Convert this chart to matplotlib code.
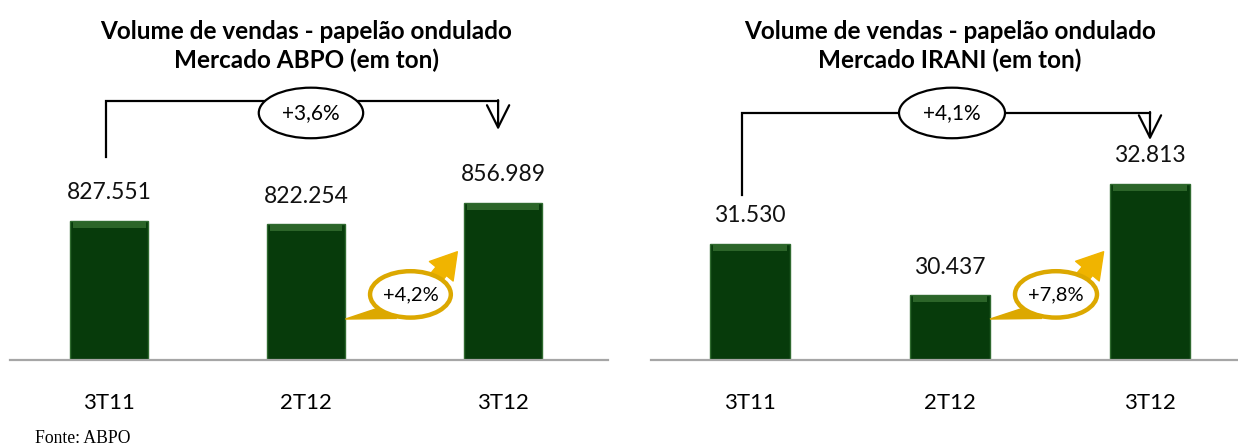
import matplotlib
matplotlib.use("Agg")
import matplotlib.pyplot as plt
from matplotlib.patches import Ellipse, Polygon, FancyArrowPatch
from matplotlib.transforms import blended_transform_factory

# data
quarters = ["3T11", "2T12", "3T12"]
abpo_values = [827551, 822254, 856989]
irani_values = [31530, 30437, 32813]
abpo_labels = ["827.551", "822.254", "856.989"]
irani_labels = ["31.530", "30.437", "32.813"]
titles = ["Volume de vendas - papelão ondulado\nMercado ABPO (em ton)",
          "Volume de vendas - papelão ondulado\nMercado IRANI (em ton)"]
total_growth = ["+3,6%", "+4,1%"]
quarter_growth = ["+4,2%", "+7,8%"]

BAR = "#073b0b"
BAR_EDGE = "#2f6a2f"
GOLD = "#dca800"
FONT = "Lato"

W, H = 1238, 448
fig = plt.figure(figsize=(W / 100, H / 100), dpi=100)

# axes boxes in pixels
panels = [
    dict(box=(10, 608), xlim=(-0.503, 2.533), ymin=600000, per_px=1635,
         bracket=(-0.015, 1.975, 0.634, 0.809, 0.719), oval=(1.025, 0.772),
         vals=abpo_values, labs=abpo_labels),
    dict(box=(651, 1238), xlim=(-0.495, 2.44), ymin=29046, per_px=21.4,
         bracket=(-0.04, 2.0, 0.516, 0.772, 0.6875), oval=(1.01, 0.772),
         vals=irani_values, labs=irani_labels),
]

base_px, top_px = 360, 40
for i, p in enumerate(panels):
    x0, x1 = p["box"]
    ax = fig.add_axes([x0 / W, (H - base_px) / H, (x1 - x0) / W, (base_px - top_px) / H])
    ymax = p["ymin"] + (base_px - top_px) * p["per_px"]
    ax.set_xlim(*p["xlim"])
    ax.set_ylim(p["ymin"], ymax)
    x = range(len(quarters))
    ax.bar(x, p["vals"], width=0.4, bottom=0, color=BAR, edgecolor=BAR_EDGE,
           linewidth=1.0, zorder=2)
    # bevel highlight on top of bars
    bevel = [v - 7 * p["per_px"] for v in p["vals"]]
    ax.bar(x, [6 * p["per_px"]] * 3, width=0.37, bottom=bevel, color="#2c6529",
           linewidth=0, zorder=3)
    for xi, v, lab in zip(x, p["vals"], p["labs"]):
        ax.text(xi, v + 28 * p["per_px"], lab, ha="center", va="center",
                fontsize=16.5, family=FONT, color="#111111")
    for s in ["top", "left", "right"]:
        ax.spines[s].set_visible(False)
    ax.spines["bottom"].set_color("#a6a6a6")
    ax.spines["bottom"].set_linewidth(1.6)
    ax.set_yticks([])
    ax.set_xticks(list(x))
    ax.set_xticklabels(quarters, fontsize=16, family=FONT)
    ax.tick_params(axis="x", length=0, pad=24)

    tr = blended_transform_factory(ax.transData, ax.transAxes)

    # title
    ax.text(1, (base_px - 46) / (base_px - top_px), titles[i], transform=tr,
            ha="center", va="center", fontsize=17.5, fontweight="bold",
            family=FONT, linespacing=1.3, clip_on=False)

    # overall growth bracket
    bl, br, ylo, yhi, ytip = p["bracket"]
    ax.plot([bl, bl, br], [ylo, yhi, yhi], color="black",
            lw=1.6, transform=tr, clip_on=False, solid_joinstyle="miter")
    ax.add_patch(FancyArrowPatch((br, yhi + 0.003), (br, ytip),
                                 arrowstyle="->,head_length=1.0,head_width=0.5",
                                 mutation_scale=16, lw=1.6, color="black",
                                 transform=tr, shrinkA=0, shrinkB=0,
                                 clip_on=False))
    ox, oy = p["oval"]
    ax.add_patch(Ellipse((ox, oy), 0.53, 0.158, facecolor="white",
                         edgecolor="black", lw=1.6, transform=tr, zorder=4,
                         clip_on=False))
    ax.text(ox, oy, total_growth[i], ha="center", va="center", fontsize=15,
            family=FONT, transform=tr, zorder=5)

    # yellow callout
    cx, cy = 1.53, 0.205
    ax.add_patch(Polygon([(1.2, 0.128), (cx - 0.15, 0.165), (cx - 0.07, 0.13)],
                         closed=True, facecolor=GOLD, edgecolor=GOLD,
                         transform=tr, zorder=4))
    ax.add_patch(FancyArrowPatch((cx + 0.12, 0.25), (1.777, 0.345),
                                 arrowstyle="simple,head_width=1.7,head_length=1.4,tail_width=0.75",
                                 mutation_scale=13, color="#f0b400", transform=tr,
                                 zorder=4))
    ax.add_patch(Ellipse((cx, cy), 0.41, 0.145, facecolor="white",
                         edgecolor=GOLD, lw=3.2, transform=tr, zorder=5))
    ax.text(cx, cy, quarter_growth[i], ha="center", va="center", fontsize=14.5,
            family=FONT, transform=tr, zorder=6)

fig.text(35 / W, 1 - 438 / H, "Fonte: ABPO", family="Liberation Serif",
         fontsize=12.7, ha="left", va="center")

fig.savefig("out.png", dpi=100)
